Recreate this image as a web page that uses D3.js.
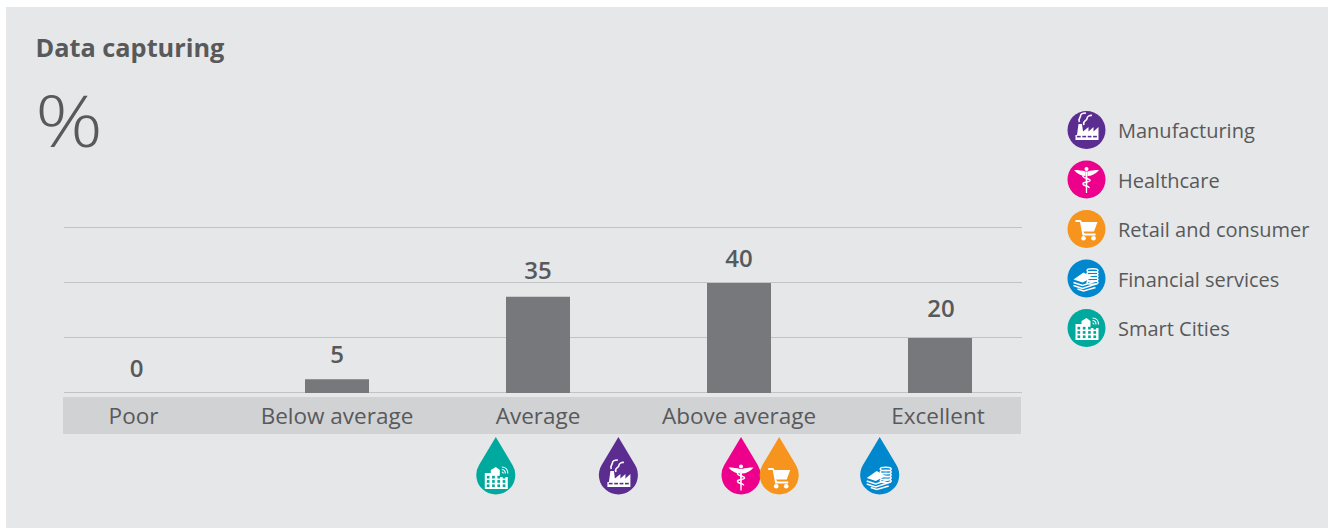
<!DOCTYPE html>
<html><head><meta charset="utf-8">
<script src="https://cdn.jsdelivr.net/npm/d3@7"></script>
<style>
html,body{margin:0;padding:0;background:#fff}
svg{display:block}
text{font-family:"Open Sans","Noto Sans",sans-serif;fill:#58595b}
</style></head><body>
<svg id="c" width="1328" height="528"></svg>
<script>
const title = "Data capturing";
const unit = "%";
const categories = ["Poor","Below average","Average","Above average","Excellent"];
const values = [0,5,35,40,20];
const gridTicks = [0,20,40,60];
const sectors = ["Manufacturing","Healthcare","Retail and consumer","Financial services","Smart Cities"];
const sectorColors = ["#5c2d91","#ec008c","#f7941d","#0087cd","#00a99d"];
const sectorRatings = [2.40,3.01,3.20,3.70,1.79];

const W="#fff";
const icons = {
 "Manufacturing": g=>{
  g.append("path").attr("fill",W).attr("d","M-11,10V5H-9.5L-8,-6H-4.5L-3.5,1.5L2,-3V1.5L7,-3V1.5L12,-3V10Z");
  g.append("g").attr("fill","#5c2d91").selectAll("rect").data(d3.range(4)).join("rect")
   .attr("x",d=>-9.6+d*5.4).attr("y",5.8).attr("width",3.8).attr("height",1.6);
  g.append("path").attr("fill","none").attr("stroke",W).attr("stroke-width",1.6)
   .attr("d","M-7,-8C-9,-11 -6,-12 -6,-14C-6,-16.5 -2,-17 -0.5,-17M-2.5,-5C-4.5,-9 0.5,-9 0.5,-11.5C0.5,-14 4,-15 5.5,-14.5");
 },
 "Healthcare": g=>{
  g.append("circle").attr("cx",0).attr("cy",-10.5).attr("r",2).attr("fill",W);
  g.append("path").attr("fill",W).attr("d","M-12.5,-9.5C-8,-9.5 -4,-9 -1,-8V-3.5C-5,-3.5 -9,-5.5 -12.5,-9.5ZM12.5,-9.5C8,-9.5 4,-9 1,-8V-3.5C5,-3.5 9,-5.5 12.5,-9.5Z");
  g.append("path").attr("fill",W).attr("d","M-1,-8H1L0.6,13.5H-0.6Z");
  g.append("path").attr("fill","none").attr("stroke",W).attr("stroke-width",1.5)
   .attr("d","M-3.5,-4C-4.5,-1 4,-1 3.5,1C2.5,3.5 -4,2 -3.5,4.5C-3,7 3,6 2.5,8.5");
 },
 "Retail and consumer": g=>{
  g.append("path").attr("fill",W).attr("d","M-11,-9H-6L-4.5,-7H11L7.5,2.5H-3L-2,4.5H9V6.5H-4L-6.5,-7H-11Z");
  g.append("circle").attr("cx",-3).attr("cy",9.2).attr("r",2.3).attr("fill",W);
  g.append("circle").attr("cx",7).attr("cy",9.2).attr("r",2.3).attr("fill",W);
 },
 "Financial services": g=>{
  const s=g.append("g").attr("fill","none").attr("stroke",W).attr("stroke-width",1.5);
  d3.range(5).forEach(i=>s.append("ellipse").attr("cx",6).attr("cy",-8+i*3).attr("rx",5.5).attr("ry",1.7));
  g.append("path").attr("fill",W).attr("d","M-13,1L-3,-6L6,-1L-4,4Z");
  g.append("path").attr("fill","none").attr("stroke",W).attr("stroke-width",1.5)
   .attr("d","M-13,4L-4,7L11,2M-13,7L-4,10L11,5M-9,10.5L-3,12.5L9,9");
 },
 "Smart Cities": g=>{
  g.append("path").attr("fill",W).attr("d","M-11,12V-4H-5V-7L0,-10L4,-7V0H12V12Z");
  g.append("g").attr("fill","#00a99d").selectAll("rect")
   .data(d3.cross(d3.range(4),d3.range(3))).join("rect")
   .attr("x",d=>-9+d[0]*5.3).attr("y",d=>-1.2+d[1]*4.3).attr("width",2.7).attr("height",2.7);
  g.append("path").attr("fill","none").attr("stroke",W).attr("stroke-width",1.1)
   .attr("d","M6,-10C10,-10 12,-7 12,-3.5M6,-7.5C8,-7.5 9.5,-6 9.5,-3.5M6,-5C7,-5 7.5,-4.5 7.5,-3.5");
 }
};

const svg = d3.select("#c");
svg.append("rect").attr("x",6).attr("y",7).attr("width",1322).attr("height",521).attr("fill","#e6e7e8");

svg.append("text").attr("x",35.5).attr("y",57).attr("font-size",25.3).attr("font-weight",700).text(title);
svg.append("text").attr("x",35).attr("y",147).attr("font-size",72)
 .attr("textLength",68).attr("lengthAdjust","spacingAndGlyphs").attr("font-weight",300).text(unit);

const x = d3.scaleBand().domain(categories).range([35.5,1040.5]).paddingInner(137/201).paddingOuter(68.5/201);
const y = d3.scaleLinear().domain([0,60]).range([393,228]);
const pos = d3.scaleLinear().domain([0,4]).range([x(categories[0])+x.bandwidth()/2,x(categories[4])+x.bandwidth()/2]);

svg.append("g").attr("transform","translate(0,-0.5)").selectAll("line").data(gridTicks).join("line")
 .attr("x1",64).attr("x2",1022).attr("y1",d=>y(d)).attr("y2",d=>y(d))
 .attr("stroke","#c2c3c5").attr("stroke-width",1);

svg.append("g").selectAll("rect").data(values).join("rect")
 .attr("x",(d,i)=>x(categories[i])).attr("width",x.bandwidth())
 .attr("y",d=>y(d)).attr("height",d=>y(0)-y(d)).attr("fill","#77787b");

const valueDy=[16,16,18,16,21], valueDx=[0.5,0,0,0,1];
svg.append("g").selectAll("text").data(values).join("text")
 .attr("x",(d,i)=>pos(i)+valueDx[i]).attr("y",(d,i)=>y(d)-valueDy[i]).attr("text-anchor","middle")
 .attr("font-size",24).attr("font-weight",600).text(d=>d);

svg.append("rect").attr("x",63).attr("y",397).attr("width",958).attr("height",37).attr("fill","#d1d2d4");
const labelDx=[-2.5,0,0,0,-2];
svg.append("g").selectAll("text").data(categories).join("text")
 .attr("x",(d,i)=>pos(i)+labelDx[i]).attr("y",424).attr("text-anchor","middle").attr("font-size",22.5).text(d=>d);

const order = [4,0,1,2,3];
const r=19.5, tip=38, st=r/tip, ct=Math.sqrt(1-st*st);
const dropPath = `M0,${-tip}L${r*ct},${-r*st}A${r},${r} 0 1 1 ${-r*ct},${-r*st}Z`;
const drops = svg.append("g").selectAll("g").data(order).join("g")
 .attr("transform",i=>`translate(${pos(sectorRatings[i])},475)`);
drops.append("path").attr("d",dropPath).attr("fill",i=>sectorColors[i]);
drops.each(function(i){ const g=d3.select(this).append("g").attr("transform","translate(0,2)"); icons[sectors[i]](g); });

const legendY = d3.scalePoint().domain(sectors).range([130,328]);
const leg = svg.append("g").selectAll("g").data(sectors).join("g")
 .attr("transform",d=>`translate(1086.5,${legendY(d)})`);
leg.append("circle").attr("r",19).attr("fill",(d,i)=>sectorColors[i]);
leg.each(function(d){ icons[d](d3.select(this).append("g")); });
leg.append("text").attr("x",31.5).attr("y",8).attr("font-size",20).text(d=>d);
</script>
</body></html>
